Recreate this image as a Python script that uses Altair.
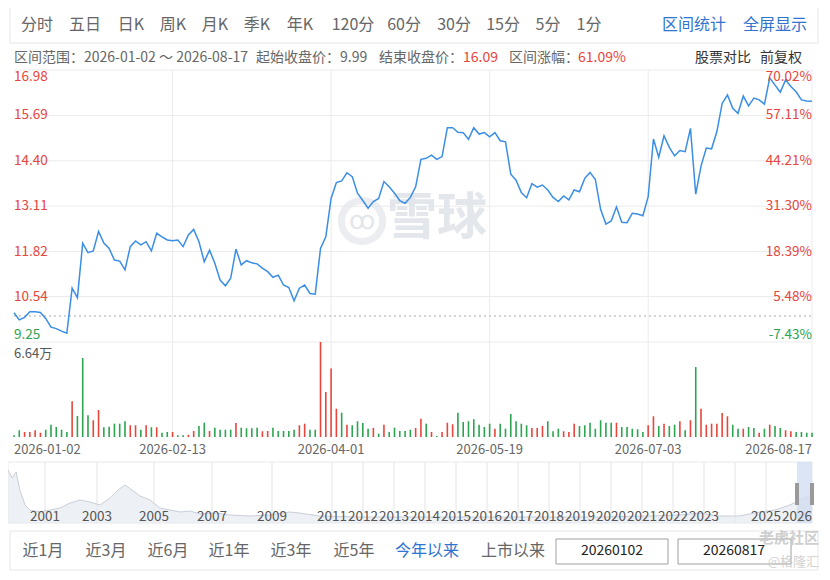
import altair as alt
import pandas as pd

# ---------------- data ----------------
prices = [
    10.08, 9.88, 9.95, 10.11, 10.11, 10.09, 9.92, 9.67, 9.63, 9.56,
    9.50, 10.78, 10.51, 12.06, 11.79, 11.84, 12.39, 12.06, 11.91, 11.58,
    11.55, 11.30, 11.96, 12.12, 12.01, 12.10, 11.84, 12.34, 12.24, 12.15,
    12.13, 12.15, 11.96, 12.29, 12.45, 12.10, 11.53, 11.86, 11.49, 11.01,
    10.85, 11.06, 11.89, 11.44, 11.56, 11.50, 11.47, 11.35, 11.25, 11.09,
    11.15, 10.87, 10.80, 10.42, 10.78, 10.87, 10.63, 10.61, 11.91, 12.24,
    13.33, 13.78, 13.83, 14.06, 13.95, 13.48, 13.27, 13.05, 13.24, 13.33,
    13.81, 13.66, 13.48, 13.27, 13.19, 13.36, 13.66, 14.44, 14.47, 14.56,
    14.44, 14.52, 15.34, 15.34, 15.21, 15.20, 15.01, 15.34, 15.16, 15.20,
    15.08, 15.20, 14.97, 14.94, 14.02, 13.85, 13.50, 13.35, 13.75, 13.65,
    13.71, 13.57, 13.36, 13.24, 13.40, 13.29, 13.57, 13.52, 13.90, 14.07,
    13.87, 13.02, 12.60, 12.69, 13.09, 12.65, 12.64, 12.91, 12.89, 12.84,
    13.38, 15.02, 14.50, 15.11, 14.78, 14.54, 14.69, 14.66, 15.32, 13.45,
    14.25, 14.76, 14.74, 15.23, 16.03, 16.27, 15.89, 15.75, 16.24, 15.96,
    16.18, 16.13, 16.01, 16.76, 16.55, 16.35, 16.70, 16.51, 16.36, 16.13,
    16.10, 16.09,
]

volumes = [  # 万
    0.12, 0.47, 0.35, 0.35, 0.47, 0.30, 0.51, 0.86, 0.70, 0.51,
    0.35, 2.50, 1.47, 5.52, 1.52, 1.17, 1.89, 0.68, 0.72, 0.93,
    0.93, 1.10, 0.82, 0.82, 0.51, 0.82, 0.68, 0.68, 0.30, 0.35,
    0.35, 0.12, 0.12, 0.16, 0.42, 0.77, 1.00, 0.42, 0.65, 0.51,
    0.51, 0.51, 0.98, 0.65, 0.61, 0.61, 0.65, 0.40, 0.42, 0.65,
    0.42, 0.42, 0.42, 0.51, 0.82, 0.93, 0.51, 0.51, 6.64, 3.15,
    4.78, 1.98, 1.70, 0.86, 0.82, 1.10, 0.98, 0.58, 0.63, 0.23,
    0.86, 0.35, 0.65, 0.42, 0.42, 0.51, 0.63, 1.28, 0.93, 0.35,
    0.07, 0.35, 1.00, 0.89, 1.70, 1.05, 1.10, 1.24, 0.86, 0.70,
    0.93, 0.58, 0.93, 0.58, 1.61, 1.10, 0.93, 0.82, 0.63, 0.63,
    0.77, 1.10, 0.40, 0.58, 0.40, 0.35, 0.93, 0.77, 0.82, 1.00,
    0.58, 1.17, 1.00, 1.00, 1.00, 0.70, 0.70, 0.58, 0.54, 0.35,
    0.82, 1.45, 0.77, 0.93, 0.77, 0.86, 1.10, 0.47, 1.17, 4.89,
    1.98, 0.86, 0.93, 0.93, 1.68, 1.45, 0.86, 0.58, 0.58, 0.70,
    0.63, 0.30, 0.58, 0.86, 0.77, 0.63, 0.47, 0.40, 0.35, 0.35,
    0.30, 0.30,
]

vol_dir = list(
    "ggrrrrgggg" "grgggrrggg" "ggrrgrgrgg" "rggrrggrgg" "ggrggggrrg"
    "ggggrrggrr" "rrgrggggrg" "rgggggrrgr" "grrrgggggg" "grggggggrr"
    "rgggrrrggg" "ggggrggggg" "rrgrggrgrg" "rrrrrrggrg" "grgrggrrgggg"
)

price_ticks = [16.98, 15.69, 14.40, 13.11, 11.82, 10.54, 9.25]
pct_ticks = ["70.02%", "57.11%", "44.21%", "31.30%", "18.39%", "5.48%", "-7.43%"]
base_price = 9.99
vol_max = 6.64

date_idx = [0, 30, 60, 90, 120, 151]
date_lbl = ["2026-01-02", "2026-02-13", "2026-04-01", "2026-05-19", "2026-07-03", "2026-08-17"]

nav_year = [1999.72, 1999.86, 2000.0, 2000.13, 2000.31, 2000.48, 2000.83, 2001.19, 2001.58,
            2001.96, 2002.35, 2002.73, 2003.1, 2003.46, 2003.74, 2003.98, 2004.23, 2004.51,
            2004.86, 2005.2, 2005.55, 2005.9, 2006.24, 2006.59, 2007.1, 2007.6, 2008.27,
            2008.93, 2009.59, 2009.92, 2010.57, 2011.87, 2013.16, 2014.77, 2016.39, 2018.0,
            2019.61, 2021.23, 2022.19, 2022.84, 2023.48, 2024.13, 2024.8, 2025.29, 2025.77,
            2026.13, 2026.38, 2026.63]
nav_val = [53, 45, 51, 33, 18, 13, 11, 13, 15, 20, 23, 21, 18, 25, 33, 38, 33, 27, 23, 15,
           13, 11, 12, 9, 10, 8, 7, 8, 11, 10, 7, 6, 6, 6, 6, 6, 6, 7, 8, 10, 7, 7, 11, 13,
           18, 23, 26, 28]
nav_grid_years = [2001, 2003, 2005, 2007, 2009, 2011, 2012, 2013, 2014, 2015, 2016, 2017,
                  2018, 2019, 2020, 2021, 2022, 2023, 2024, 2025]
nav_lbl_years = [2001, 2003, 2005, 2007, 2009, 2011, 2012, 2013, 2014, 2015, 2016, 2017,
                 2018, 2019, 2020, 2021, 2022, 2023, 2025, 2026]
sel_years = [2026.0, 2026.63]

toolbar_items = ["分时", "五日", "日K", "周K", "月K", "季K", "年K", "120分", "60分", "30分", "15分", "5分", "1分"]
toolbar_links = ["区间统计", "全屏显示"]
range_buttons = ["近1月", "近3月", "近6月", "近1年", "近3年", "近5年", "今年以来", "上市以来"]
start_date_box = "20260102"
end_date_box = "20260817"

# ---------------- layout / style ----------------
FONT = "Noto Sans CJK SC"
RED = "#e8453c"
GREEN = "#2ca450"
LINE_BLUE = "#3a8ee6"
LINK_BLUE = "#2f74d0"
GRAY = "#666666"
DARK = "#333333"
GRID = "#ebebeb"
M = 8

def X(px):
    return px - M

def Y(py):
    return py - M

N = len(prices)
XS = alt.Scale(domain=[0, N - 1], range=[X(14), X(812)], nice=False, zero=False)
PS = alt.Scale(domain=[9.25, 16.98], range=[Y(342), Y(70)], nice=False, zero=False)
VS = alt.Scale(domain=[0, vol_max], range=[Y(437), Y(342)], nice=False, zero=False)
NXS = alt.Scale(domain=[1999.72, 2001, 2003, 2005, 2007, 2009, 2011, 2026, 2026.63],
                range=[X(8), X(45), X(97), X(154), X(212), X(272), X(332), X(797), X(812)],
                nice=False, zero=False)
NYS = alt.Scale(domain=[0, 61], range=[Y(523), Y(462)], nice=False, zero=False)

ONE = alt.Data(values=[{}])


def label(text, px, py, size=13, color=GRAY, align="left", baseline="middle", weight="normal", opacity=1.0):
    return alt.Chart(ONE).mark_text(
        text=text, align=align, baseline=baseline, fontSize=size, color=color,
        font=FONT, fontWeight=weight, opacity=opacity,
    ).encode(x=alt.value(X(px)), y=alt.value(Y(py)))


def box(x1, y1, x2, y2, stroke, fill="#ffffff", fill_opacity=0.0, sw=1):
    return alt.Chart(ONE).mark_rect(
        stroke=stroke, strokeWidth=sw, fill=fill, fillOpacity=fill_opacity,
    ).encode(x=alt.value(X(x1)), x2=alt.value(X(x2)), y=alt.value(Y(y1)), y2=alt.value(Y(y2)))


layers = []

# toolbar
layers.append(box(10, 7, 818, 43, "#e6e6e6"))
tool_x = [37, 85, 131, 173, 215, 257, 300, 353, 404, 454, 503, 548, 589]
for t, px in zip(toolbar_items, tool_x):
    layers.append(label(t, px, 25, size=16, color=GRAY, align="center"))
for t, px in zip(toolbar_links, [694, 775]):
    layers.append(label(t, px, 25, size=16, color=LINK_BLUE, align="center"))

# info row
layers.append(label("区间范围：2026-01-02 ～ 2026-08-17", 14, 58, size=14))
layers.append(label("起始收盘价：9.99", 256, 58, size=14))
layers.append(label("结束收盘价：", 379, 58, size=14))
layers.append(label("16.09", 463, 58, size=14, color=RED))
layers.append(label("区间涨幅：", 509, 58, size=14))
layers.append(label("61.09%", 578, 58, size=14, color=RED))
layers.append(label("股票对比", 695, 58, size=14, color=DARK))
layers.append(label("前复权", 760, 58, size=14, color=DARK))

# price grid
tick_df = pd.DataFrame({"price": price_ticks, "plbl": [f"{v:.2f}" for v in price_ticks], "pct": pct_ticks})
layers.append(alt.Chart(tick_df).mark_rule(color=GRID, strokeWidth=1).encode(
    y=alt.Y("price:Q", scale=PS, axis=None), x=alt.value(X(14)), x2=alt.value(X(812))))

date_df = pd.DataFrame({"idx": date_idx, "date": date_lbl})
layers.append(alt.Chart(date_df[date_df.idx > 0]).mark_rule(color=GRID, strokeWidth=1).encode(
    x=alt.X("idx:Q", scale=XS, axis=None), y=alt.value(Y(70)), y2=alt.value(Y(437))))

# watermark
layers.append(alt.Chart(ONE).mark_point(shape="circle", filled=False, size=1700, strokeWidth=7,
                                        color="#e3e6eb").encode(x=alt.value(X(362)), y=alt.value(Y(221))))
layers.append(label("ꝏ", 362, 221, size=26, color="#e3e6eb", align="center"))
layers.append(label("雪球", 437, 219, size=50, color="#e3e6eb", align="center", weight="bold"))

# base dashed line
layers.append(alt.Chart(pd.DataFrame({"price": [base_price]})).mark_rule(
    color="#aaaaaa", strokeDash=[2, 3], strokeWidth=1).encode(
    y=alt.Y("price:Q", scale=PS, axis=None), x=alt.value(X(14)), x2=alt.value(X(812))))

# price line
price_df = pd.DataFrame({"idx": list(range(N)), "price": prices})
layers.append(alt.Chart(price_df).mark_line(color=LINE_BLUE, strokeWidth=1.5).encode(
    x=alt.X("idx:Q", scale=XS, axis=None), y=alt.Y("price:Q", scale=PS, axis=None)))

# price / percent labels
top_df = tick_df.iloc[[0]]
mid_df = tick_df.iloc[1:-1]
bot_df = tick_df.iloc[[-1]]
for df, bl, col in [(top_df, "top", RED), (mid_df, "middle", RED), (bot_df, "bottom", GREEN)]:
    layers.append(alt.Chart(df).mark_text(align="left", baseline=bl, fontSize=13.5, font=FONT, color=col).encode(
        y=alt.Y("price:Q", scale=PS, axis=None), x=alt.value(X(14)), text="plbl:N"))
    layers.append(alt.Chart(df).mark_text(align="right", baseline=bl, fontSize=13.5, font=FONT, color=col).encode(
        y=alt.Y("price:Q", scale=PS, axis=None), x=alt.value(X(812)), text="pct:N"))

# volume
vol_df = pd.DataFrame({"idx": list(range(N)), "vol": volumes, "dir": vol_dir, "zero": [0.0] * N})
layers.append(alt.Chart(vol_df).mark_rule(strokeWidth=1.6).encode(
    x=alt.X("idx:Q", scale=XS, axis=None),
    y=alt.Y("vol:Q", scale=VS, axis=None),
    y2="zero:Q",
    color=alt.Color("dir:N", scale=alt.Scale(domain=["r", "g"], range=[RED, GREEN]), legend=None)))
layers.append(label(f"{vol_max:.2f}万", 14, 354, size=13, color="#555555"))

# date labels
for df, al in [(date_df.iloc[[0]], "left"), (date_df.iloc[1:-1], "center"), (date_df.iloc[[-1]], "right")]:
    layers.append(alt.Chart(df).mark_text(align=al, baseline="middle", fontSize=13, font=FONT, color=GRAY).encode(
        x=alt.X("idx:Q", scale=XS, axis=None), y=alt.value(Y(450)), text="date:N"))

# navigator
layers.append(box(8, 462, 812, 523, "#e8e8e8"))
layers.append(alt.Chart(pd.DataFrame({"year": nav_grid_years})).mark_rule(color="#e4e4e4").encode(
    x=alt.X("year:Q", scale=NXS, axis=None), y=alt.value(Y(462)), y2=alt.value(Y(523))))
nav_df = pd.DataFrame({"year": nav_year, "val": nav_val, "zero": [0] * len(nav_val)})
layers.append(alt.Chart(nav_df).mark_area(color="#e6e9ef", line={"color": "#c9ced8", "strokeWidth": 1}).encode(
    x=alt.X("year:Q", scale=NXS, axis=None), y=alt.Y("val:Q", scale=NYS, axis=None), y2="zero:Q"))
layers.append(alt.Chart(pd.DataFrame({"a": [sel_years[0]], "b": [sel_years[1]]})).mark_rect(
    color="#cfdcf2", opacity=0.75).encode(
    x=alt.X("a:Q", scale=NXS, axis=None), x2="b:Q", y=alt.value(Y(462)), y2=alt.value(Y(523))))
layers.append(alt.Chart(pd.DataFrame({"year": sel_years})).mark_rule(color="#9a9a9a", strokeWidth=4).encode(
    x=alt.X("year:Q", scale=NXS, axis=None), y=alt.value(Y(483)), y2=alt.value(Y(505))))
layers.append(alt.Chart(pd.DataFrame({"year": nav_lbl_years, "lbl": [str(v) for v in nav_lbl_years]})).mark_text(
    align="center", baseline="middle", fontSize=13.5, font=FONT, color="#555555").encode(
    x=alt.X("year:Q", scale=NXS, axis=None), y=alt.value(Y(517)), text="lbl:N"))

# bottom row
layers.append(box(10, 531, 818, 570, "#e6e6e6"))
btn_x = [43, 106, 168, 229, 291, 354, 427, 513]
for t, px in zip(range_buttons, btn_x):
    col = LINK_BLUE if t == "今年以来" else GRAY
    layers.append(label(t, px, 551, size=16, color=col, align="center"))
layers.append(box(556, 539, 668, 564, "#a0a0a0"))
layers.append(box(678, 539, 791, 564, "#a0a0a0"))
layers.append(label(start_date_box, 612, 551, size=14, color="#222222", align="center"))
layers.append(label(end_date_box, 734, 551, size=14, color="#222222", align="center"))

# overlay watermarks of the screenshot
layers.append(label("老虎社区", 819, 538, size=15, color="#c4c4c4", align="right", weight="bold", opacity=0.8))
layers.append(label("@格隆汇", 819, 562, size=13, color="#c8c8c8", align="right", opacity=0.8))

chart = alt.layer(*layers).resolve_scale(
    x="independent", y="independent", color="independent"
).properties(
    width=814, height=564, padding=0, autosize=alt.AutoSizeParams(type="none"),
    background="#ffffff",
).configure_view(stroke=None)

chart.save("out.html", embed_options={"renderer": "svg", "actions": False})
